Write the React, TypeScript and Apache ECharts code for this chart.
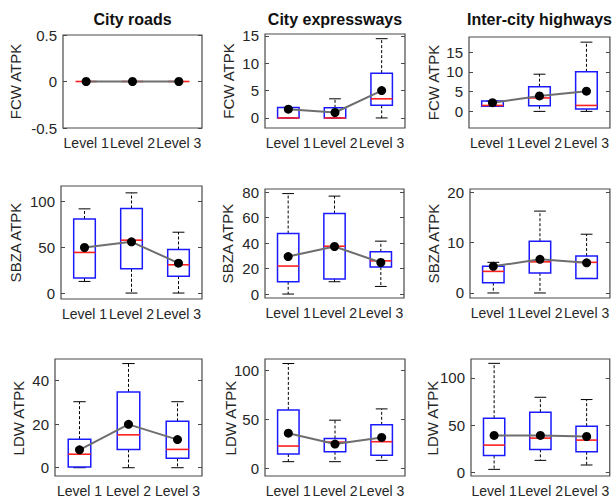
import React, { useEffect, useRef } from "react";
import * as echarts from "echarts";

// ---- Data ----
const levels = ["Level 1", "Level 2", "Level 3"];
const roadTypes = ["City roads", "City expressways", "Inter-city highways"];
const metrics = ["FCW ATPK", "SBZA ATPK", "LDW ATPK"];

// box stats: [lower whisker, Q1, median, Q3, upper whisker]
const fcwCityRoads = [[0, 0, 0, 0, 0], [0, 0, 0, 0, 0], [0, 0, 0, 0, 0]];
const fcwCityRoadsMean = [0, 0, 0];
const fcwCityExpressways = [[0, 0, 0, 1.9, 1.9], [0, 0, 0, 1.85, 3.5], [0, 2.3, 3.5, 8.2, 14.5]];
const fcwCityExpresswaysMean = [1.6, 1.0, 5.0];
const fcwInterCity = [[1.3, 1.3, 1.5, 2.6, 2.6], [0, 1.4, 3.4, 6.25, 9.4], [0, 0.6, 1.5, 10, 17.5]];
const fcwInterCityMean = [2.2, 3.9, 5.1];

const sbzaCityRoads = [[12.7, 16.4, 44.4, 81, 92], [0, 26.5, 57.8, 92.4, 109.5], [0, 18.5, 30.9, 47.6, 66.5]];
const sbzaCityRoadsMean = [49.8, 56, 32.7];
const sbzaCityExpressways = [[0, 9.7, 22, 47.6, 79], [9.7, 11.8, 37.6, 63.3, 77], [6, 21.2, 26.1, 33.2, 41.6]];
const sbzaCityExpresswaysMean = [29.5, 37.4, 24.8];
const sbzaInterCity = [[0, 2.05, 4.3, 5.3, 6.1], [0, 4.0, 6.2, 10.3, 16.3], [2.9, 2.9, 6.1, 7.35, 11.7]];
const sbzaInterCityMean = [5.3, 6.7, 6.0];

const ldwCityRoads = [[0, 0.3, 6.2, 13.1, 30.3], [0, 8.4, 15.1, 34.8, 47.8], [0, 4.3, 8.4, 21.3, 30.3]];
const ldwCityRoadsMean = [8.2, 19.9, 12.9];
const ldwCityExpressways = [[7.1, 14.9, 23, 59.8, 107], [7.1, 17.2, 27, 30.7, 49.3], [8.4, 13.5, 27.4, 44.6, 60.8]];
const ldwCityExpresswaysMean = [36.1, 25, 31.8];
const ldwInterCity = [[3.5, 18.2, 29.1, 57.5, 115.4], [13, 24.6, 36.5, 63.9, 79.6], [8.1, 22.1, 34.4, 49.1, 77.2]];
const ldwInterCityMean = [39.3, 39.3, 38.2];

// y-axis ranges and tick labels per panel (row-major)
const yMins = [-0.5, -1.84, -4.2, -6.5, -3.1, -1.0, -3.8, -7.5, -3.5];
const yMaxs = [0.5, 15.36, 18.8, 117, 82.6, 20.7, 49.9, 111.6, 120];
const yTicks = [
  [-0.5, 0, 0.5], [0, 5, 10, 15], [0, 5, 10, 15],
  [0, 50, 100], [0, 20, 40, 60, 80], [0, 10, 20],
  [0, 20, 40], [0, 50, 100], [0, 50, 100],
];

const boxes = [
  fcwCityRoads, fcwCityExpressways, fcwInterCity,
  sbzaCityRoads, sbzaCityExpressways, sbzaInterCity,
  ldwCityRoads, ldwCityExpressways, ldwInterCity,
];
const means = [
  fcwCityRoadsMean, fcwCityExpresswaysMean, fcwInterCityMean,
  sbzaCityRoadsMean, sbzaCityExpresswaysMean, sbzaInterCityMean,
  ldwCityRoadsMean, ldwCityExpresswaysMean, ldwInterCityMean,
];

// ---- Layout ----
const gridRects = [
  [63, 35, 139, 93], [265, 34, 140, 94], [469, 37, 141, 91],
  [61, 186, 141, 113], [265, 189, 139, 109], [470, 189, 141, 109],
  [55, 359, 147, 118], [265, 359, 140, 118], [471, 359, 140, 118],
];
const yLabelX = [15, 228, 433, 15, 227, 433, 18, 230, 432];

const FONT = "'Liberation Sans', Arial, sans-serif";

function renderBox(params: any, api: any) {
  const idx = api.value(0);
  const lo = api.coord([idx, api.value(1)]);
  const q1 = api.coord([idx, api.value(2)]);
  const md = api.coord([idx, api.value(3)]);
  const q3 = api.coord([idx, api.value(4)]);
  const hi = api.coord([idx, api.value(5)]);
  const bw = api.size([1, 0])[0] * 0.46;
  const cw = bw * 0.55;
  const x = lo[0];
  const dash = { stroke: "#000", lineWidth: 1, lineDash: [3, 2] };
  const solid = { stroke: "#000", lineWidth: 1 };
  const children: any[] = [
    { type: "line", shape: { x1: x, y1: q3[1], x2: x, y2: hi[1] }, style: dash },
    { type: "line", shape: { x1: x, y1: q1[1], x2: x, y2: lo[1] }, style: dash },
    { type: "line", shape: { x1: x - cw / 2, y1: hi[1], x2: x + cw / 2, y2: hi[1] }, style: solid },
    { type: "line", shape: { x1: x - cw / 2, y1: lo[1], x2: x + cw / 2, y2: lo[1] }, style: solid },
  ];
  if (q1[1] - q3[1] > 0.5) {
    children.push({
      type: "rect",
      shape: { x: x - bw / 2, y: q3[1], width: bw, height: q1[1] - q3[1] },
      style: { fill: "none", stroke: "#1a1aff", lineWidth: 1.5 },
    });
  }
  children.push({
    type: "line",
    shape: { x1: x - bw / 2, y1: md[1], x2: x + bw / 2, y2: md[1] },
    style: { stroke: "#ff2020", lineWidth: 1.6 },
  });
  return { type: "group", children };
}

function buildOption() {
  const grid: any[] = [];
  const xAxis: any[] = [];
  const yAxis: any[] = [];
  const rightAxes: any[] = [];
  const series: any[] = [];
  const graphic: any[] = [];

  for (let i = 0; i < 9; i++) {
    const [l, t, w, h] = gridRects[i];
    grid.push({
      left: l, top: t, width: w, height: h,
      show: true, borderColor: "#4a4a4a", borderWidth: 1.2, backgroundColor: "#fff",
    });
    xAxis.push({
      type: "category", gridIndex: i, data: levels, boundaryGap: true,
      axisLine: { show: false }, axisTick: { show: false },
      axisLabel: { interval: 0, color: "#262626", fontSize: 14, fontFamily: FONT, margin: 8 },
    });
    const common = {
      type: "value", gridIndex: i, min: yMins[i], max: yMaxs[i],
      splitLine: { show: false }, axisLine: { show: false },
    };
    yAxis.push({
      ...common, position: "left",
      axisTick: { show: true, inside: true, length: 4, customValues: yTicks[i], lineStyle: { color: "#4a4a4a" } },
      axisLabel: {
        customValues: yTicks[i], color: "#262626", fontSize: 15, fontFamily: FONT, margin: 6,
        formatter: (v: number) => String(v),
      },
    });
    rightAxes.push({
      ...common, position: "right",
      axisTick: { show: true, inside: true, length: 4, customValues: yTicks[i], lineStyle: { color: "#4a4a4a" } },
      axisLabel: { show: false },
    });
    series.push({
      type: "custom", xAxisIndex: i, yAxisIndex: i,
      renderItem: renderBox,
      encode: { x: 0, y: [1, 2, 3, 4, 5] },
      data: boxes[i].map((b, k) => [k, ...b]),
      z: 2,
    });
    series.push({
      type: "line", xAxisIndex: i, yAxisIndex: i,
      data: means[i], symbol: "circle", symbolSize: 9,
      itemStyle: { color: "#000" },
      lineStyle: { color: "#6e6e6e", width: 2 },
      z: 3,
    });
    graphic.push({
      type: "text", x: yLabelX[i], y: t + h / 2, rotation: Math.PI / 2,
      style: {
        text: metrics[Math.floor(i / 3)], fontSize: 15, fontFamily: FONT, fill: "#262626",
        textAlign: "center", textVerticalAlign: "middle",
      },
    });
    if (i < 3) {
      graphic.push({
        type: "text", x: l + w / 2, y: 19,
        style: {
          text: roadTypes[i], fontSize: 16, fontWeight: "bold", fontFamily: FONT, fill: "#111",
          textAlign: "center", textVerticalAlign: "middle",
        },
      });
    }
  }

  return {
    animation: false,
    backgroundColor: "#fff",
    grid, xAxis, yAxis: [...yAxis, ...rightAxes], series, graphic,
  };
}

export default function App() {
  const ref = useRef<HTMLDivElement>(null);
  useEffect(() => {
    if (!ref.current) return;
    const chart = echarts.init(ref.current, undefined, { renderer: "svg" });
    chart.setOption(buildOption() as any);
    return () => chart.dispose();
  }, []);
  return (
    <div
      ref={ref}
      style={{ position: "fixed", left: 0, top: 0, width: 612, height: 498, background: "#fff" }}
    />
  );
}
